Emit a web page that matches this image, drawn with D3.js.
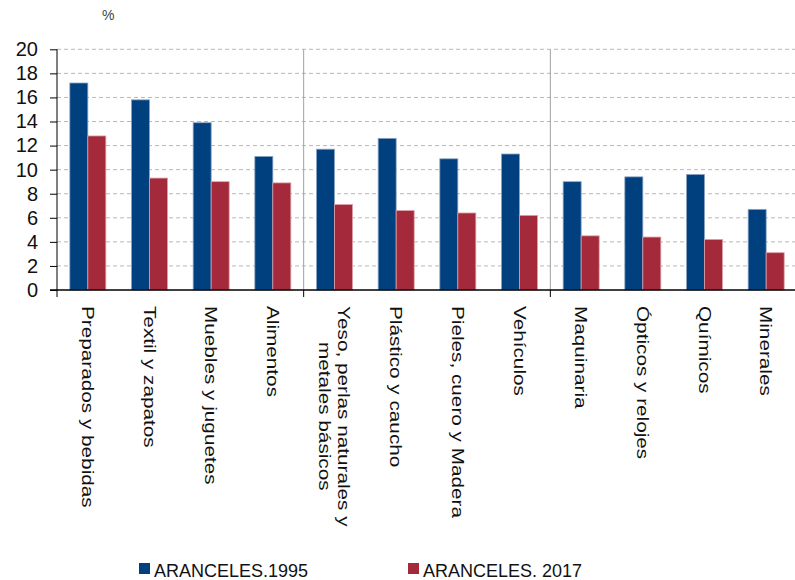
<!DOCTYPE html>
<html>
<head>
<meta charset="utf-8">
<script src="https://cdn.jsdelivr.net/npm/d3@7"></script>
<style>
  body { margin: 0; background: #fff; }
  text { font-family: "Liberation Sans", Arial, Helvetica, sans-serif; }
</style>
</head>
<body>
<svg id="chart"></svg>
<script>
// categorias y series
var categories = [
  "Preparados y bebidas", "Textil y zapatos", "Muebles y juguetes", "Alimentos",
  "Yeso, perlas naturales y|metales básicos", "Plástico y caucho", "Pieles, cuero y Madera", "Vehículos",
  "Maquinaria", "Ópticos y relojes", "Químicos", "Minerales"
];
var aranceles1995 = [17.2, 15.8, 13.9, 11.1, 11.7, 12.6, 10.9, 11.3, 9.0, 9.4, 9.6, 6.7];
var aranceles2017 = [12.8, 9.3, 9.0, 8.9, 7.1, 6.6, 6.4, 6.2, 4.5, 4.4, 4.2, 3.1];
var seriesNames = ["ARANCELES.1995", "ARANCELES. 2017"];
var seriesColors = ["#00407f", "#a4293a"];
var yTicks = [0, 2, 4, 6, 8, 10, 12, 14, 16, 18, 20];
var groupBreaks = [0, 4, 8, 12]; // separadores cada 4 categorias

var svgWidth = 795;
var svgHeight = 580;
var plotL = 57, plotR = 797, plotT = 49.3, plotB = 290;

var svg = d3.select("#chart")
  .attr("width", svgWidth)
  .attr("height", svgHeight);

var x0 = d3.scaleBand().domain(categories).range([plotL, plotR]);
var barW = 18;
var x1 = d3.scaleBand().domain([0, 1]).range([0, barW * 2]);
var y = d3.scaleLinear().domain([0, 20]).range([plotB, plotT]);

// grid
svg.append("g")
  .selectAll("line")
  .data(yTicks.filter(function(d) { return d > 0; }))
  .enter()
  .append("line")
  .attr("x1", plotL)
  .attr("x2", plotR)
  .attr("y1", function(d) { return y(d); })
  .attr("y2", function(d) { return y(d); })
  .attr("stroke", "#b8b8b8")
  .attr("stroke-width", 1)
  .attr("stroke-dasharray", "4,3");

// separadores verticales
var sepX = function(i) { return i < categories.length ? x0(categories[i]) : plotR; };
svg.append("g")
  .selectAll("line")
  .data([4, 8])
  .enter()
  .append("line")
  .attr("x1", function(i) { return sepX(i); })
  .attr("x2", function(i) { return sepX(i); })
  .attr("y1", plotT)
  .attr("y2", plotB)
  .attr("stroke", "#a0a0a0")
  .attr("stroke-width", 1);

// bars
var rows = categories.map(function(c, i) {
  return { cat: c, vals: [aranceles1995[i], aranceles2017[i]] };
});

var groups = svg.append("g")
  .selectAll("g")
  .data(rows)
  .enter()
  .append("g")
  .attr("transform", function(d) {
    return "translate(" + (x0(d.cat) + (x0.bandwidth() - barW * 2) / 2) + ",0)";
  });

groups.selectAll("rect")
  .data(function(d) { return d.vals; })
  .enter()
  .append("rect")
  .attr("x", function(d, i) { return x1(i); })
  .attr("width", x1.bandwidth())
  .attr("y", function(d) { return y(d); })
  .attr("height", function(d) { return y(0) - y(d); })
  .attr("fill", function(d, i) { return seriesColors[i]; })
  .attr("stroke", function(d, i) { return i === 0 ? "#8aa4c4" : "#dba0a8"; })
  .attr("stroke-width", 0.8);

// y axis
var yAxis = d3.axisLeft(y).tickValues(yTicks).tickSize(7).tickPadding(12);
var gy = svg.append("g")
  .attr("transform", "translate(" + plotL + ",0)")
  .call(yAxis);
gy.select(".domain").attr("stroke", "#000").attr("d", "M0," + plotT + "V" + plotB);
gy.selectAll(".tick line").attr("stroke", "#000");
gy.selectAll(".tick text")
  .attr("font-size", "20px")
  .attr("fill", "#111")
  .attr("font-family", "Liberation Sans, Arial, sans-serif");

// x axis line + group ticks
svg.append("line")
  .attr("x1", plotL - 7).attr("x2", plotR)
  .attr("y1", plotB).attr("y2", plotB)
  .attr("stroke", "#000").attr("stroke-width", 1.5);

svg.append("g")
  .selectAll("line")
  .data(groupBreaks.slice(0, 3))
  .enter()
  .append("line")
  .attr("x1", function(i) { return sepX(i); })
  .attr("x2", function(i) { return sepX(i); })
  .attr("y1", plotB)
  .attr("y2", plotB + 7)
  .attr("stroke", "#000");

// etiquetas rotadas
var labScale = 1.22;
var labels = svg.append("g")
  .selectAll("g")
  .data(categories)
  .enter()
  .append("g");

labels.each(function(c) {
  var lines = c.split("|");
  var g = d3.select(this);
  var cx = x0(c) + x0.bandwidth() / 2;
  var n = lines.length;
  var lineH = 19;
  var t = g.append("text")
    .attr("font-size", "17px")
    .attr("fill", "#111")
    .attr("text-anchor", n > 1 ? "middle" : "start");
  lines.forEach(function(l, k) {
    t.append("tspan").attr("x", 0).attr("y", k * lineH).text(l);
  });
  var w = 0;
  t.selectAll("tspan").each(function() { w = Math.max(w, this.getComputedTextLength()); });
  var baseX = cx - 6 + (n - 1) * lineH / 2;
  var startY = 306;
  if (n > 1) {
    g.attr("transform", "translate(" + baseX + "," + (startY + w * labScale / 2) + ") rotate(90) scale(" + labScale + ",1)");
  } else {
    g.attr("transform", "translate(" + baseX + "," + startY + ") rotate(90) scale(" + labScale + ",1)");
  }
});

// unidad
svg.append("text")
  .attr("x", 102).attr("y", 20)
  .attr("font-size", "14px")
  .attr("fill", "#444")
  .text("%");

// legend
var legX = [139, 408];
var leg = svg.append("g")
  .selectAll("g")
  .data(seriesNames)
  .enter()
  .append("g")
  .attr("transform", function(d, i) { return "translate(" + legX[i] + ",563)"; });

leg.append("rect")
  .attr("width", 11).attr("height", 11)
  .attr("fill", function(d, i) { return seriesColors[i]; });

leg.append("text")
  .attr("x", 15).attr("y", 13.5)
  .attr("font-size", "18px")
  .attr("fill", "#111")
  .text(function(d) { return d; });
</script>
</body>
</html>
